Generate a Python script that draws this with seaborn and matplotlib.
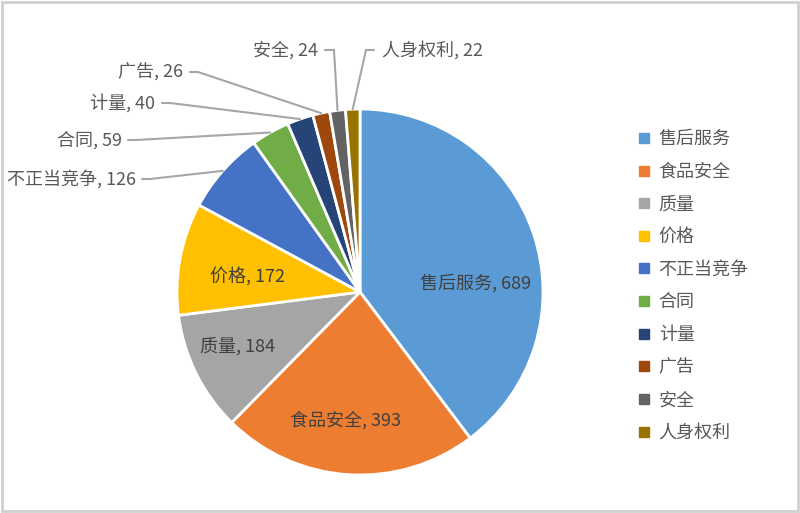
import matplotlib
matplotlib.use("Agg")
import matplotlib.pyplot as plt
import seaborn as sns
import numpy as np
from matplotlib.lines import Line2D
from matplotlib.patches import Rectangle

categories = ["售后服务", "食品安全", "质量", "价格", "不正当竞争", "合同", "计量", "广告", "安全", "人身权利"]
values = [689, 393, 184, 172, 126, 59, 40, 26, 24, 22]
colors = ["#5B9BD5", "#ED7D31", "#A5A5A5", "#FFC000", "#4472C4",
          "#70AD47", "#264478", "#9E480E", "#636363", "#997300"]

sns.set_theme(style="white")
plt.rcParams['font.family'] = ['Noto Sans CJK SC', 'DejaVu Sans']

W, H = 800, 513
fig = plt.figure(figsize=(8, 5.13), dpi=100)
fig.patch.set_facecolor("white")
CX, CY, R = 360, 292, 183
ax = fig.add_axes([(CX - R) / W, (H - CY - R) / H, 2 * R / W, 2 * R / H])
wedges, _ = ax.pie(values, colors=colors, startangle=90, counterclock=False, radius=1,
                   wedgeprops=dict(edgecolor="white", linewidth=2))
ax.set_xlim(-1, 1)
ax.set_ylim(-1, 1)
ax.set_aspect("equal")
ax.axis("off")


def p2d(px, py):
    return ((px - CX) / R, (CY - py) / R)


FS = 13

# inside labels (pixel centre positions)
inside_pos = {0: (476, 283), 1: (345, 420), 2: (238, 346), 3: (248, 276)}
for i, (px, py) in inside_pos.items():
    x, y = p2d(px, py)
    ax.text(x, y, f"{categories[i]}, {values[i]}", ha="center", va="center",
            fontsize=FS, color="#404040")

# outside labels: (text anchor px, py, ha, stub start px, stub end px)
outside = {
    4: (136, 179, "right", 142, 150),
    5: (122, 140, "right", 128, 136),
    6: (155, 103, "right", 162, 170),
    7: (183, 72, "right", 190, 198),
    8: (318, 50, "right", 325, 334),
    9: (382, 50, "left", 374, 366),
}
for i, (px, py, ha, s0, s1) in outside.items():
    x, y = p2d(px, py)
    ax.text(x, y, f"{categories[i]}, {values[i]}", ha=ha, va="center",
            fontsize=FS, color="#595959", clip_on=False)
    w = wedges[i]
    mid = np.deg2rad((w.theta1 + w.theta2) / 2)
    ex, ey = np.cos(mid), np.sin(mid)
    a = p2d(s0, py)
    b = p2d(s1, py)
    ax.plot([a[0], b[0], ex], [a[1], b[1], ey], color="#A6A6A6", linewidth=1.5,
            clip_on=False, solid_joinstyle="miter")

handles = [Line2D([], [], marker="s", color=c, linestyle="", markersize=7) for c in colors]
fig.legend(handles=handles, labels=categories, loc="upper left",
           bbox_to_anchor=(628 / W, 1 - 123 / H), frameon=False, fontsize=FS,
           labelspacing=0.81, handletextpad=0.3, handlelength=1.0,
           labelcolor="#595959", borderaxespad=0)

fig.add_artist(Rectangle((0.002, 0.003), 0.995, 0.994, transform=fig.transFigure,
                         fill=False, edgecolor="#D0D0D0", linewidth=2))

fig.savefig("out.png", dpi=100)
